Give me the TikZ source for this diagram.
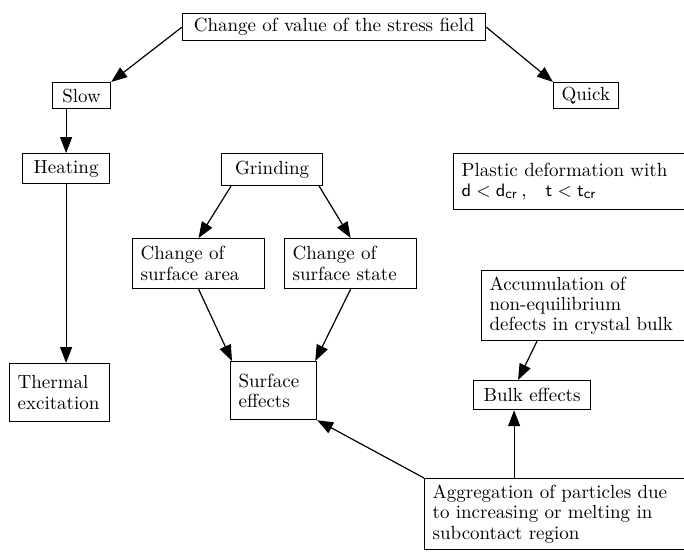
\documentclass[tikz,border=0pt]{standalone}
\usetikzlibrary{arrows.meta}

\begin{document}
\begin{tikzpicture}[
  x=0.5pt, y=-0.5pt,
  font=\fontsize{9.5pt}{10.2pt}\selectfont,
  caixa/.style={draw, line width=0.6pt, anchor=north west, inner xsep=4pt, inner ysep=1pt},
  seta/.style={-{Triangle[length=8pt,width=6pt]}, line width=0.6pt}]
\useasboundingbox (0,0) rectangle (684,552);
% ---- topo e ramos
\node[caixa, minimum width=151.5pt, minimum height=13.5pt] (topo) at (182,13) {Change of value of the stress field};
\node[caixa, minimum width=29pt, minimum height=13pt] (lento) at (52,82) {Slow};
\node[caixa, minimum width=30pt, minimum height=13pt] (rapido) at (553,82) {Quick};
% ---- coluna da esquerda
\node[caixa, minimum width=43.5pt, minimum height=15pt] (aquec) at (22,153) {Heating};
\node[caixa, text width=42pt, minimum height=29pt, align=left] (termica) at (9,363) {Thermal\\excitation};
% ---- moagem
\node[caixa, minimum width=50.5pt, minimum height=16pt] (moagem) at (221,153) {Grinding};
\node[caixa, text width=58pt, minimum height=25pt, align=left] (area) at (132,238) {Change of\\surface area};
\node[caixa, text width=58pt, minimum height=25pt, align=left] (estado) at (284,238) {Change of\\surface state};
\node[caixa, text width=35pt, minimum height=29pt, align=left] (superf) at (230,361) {Surface\\effects};
% ---- coluna da direita
\node[caixa, text width=117pt, minimum height=28pt, align=left] (plastica) at (453,153) {Plastic deformation with\\$\mathsf{d<d_{cr}}$\,,\quad $\mathsf{t<t_{cr}}$};
\node[caixa, text width=104pt, minimum height=35pt, align=left] (acumul) at (481,270) {Accumulation of\\non-equilibrium\\defects in crystal bulk};
\node[caixa, minimum width=58.5pt, minimum height=14.5pt] (volume) at (473,380) {Bulk effects};
\node[caixa, text width=128pt, minimum height=35.5pt, align=left] (agreg) at (424,478) {Aggregation of particles due\\to increasing or melting in\\subcontact region};
% ---- setas
\draw[seta] (topo.west) -- (lento.north east);
\draw[seta] (topo.east) -- (rapido.north west);
\draw[seta] (lento.south -| aquec.north) -- (aquec.north);
\draw[seta] (aquec.south) -- (aquec.south |- termica.north);
\draw[seta] ([xshift=5pt]moagem.south west) -- (area.north);
\draw[seta] ([xshift=-2pt]moagem.south east) -- (estado.north);
\draw[seta] (area.south) -- ([xshift=1pt]superf.north west);
\draw[seta] (estado.south) -- ([xshift=-1pt]superf.north east);
\draw[seta] ([xshift=28pt]acumul.south west) -- ([xshift=-7pt]volume.north);
\draw[seta] ([xshift=-9pt]volume.south |- agreg.north) -- ([xshift=-9pt]volume.south);
\draw[seta] (agreg.north west) -- (superf.south east);
\end{tikzpicture}
\end{document}
